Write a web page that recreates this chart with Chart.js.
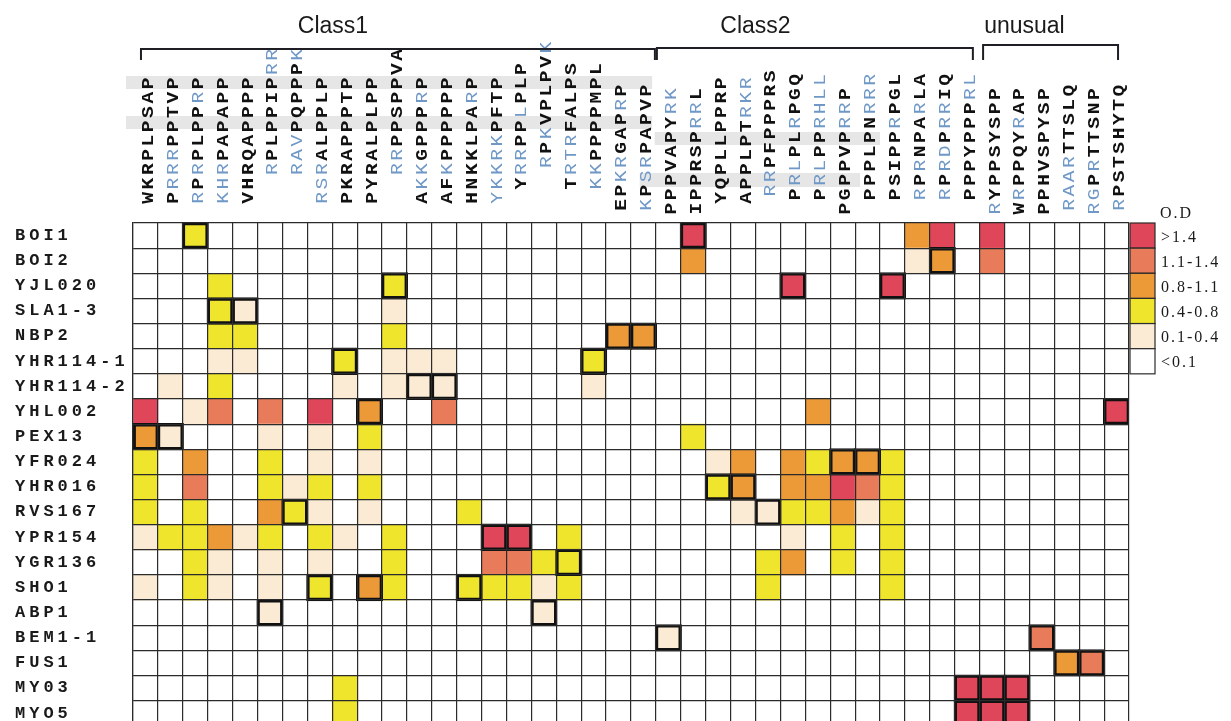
<!DOCTYPE html>
<html>
<head>
<meta charset="utf-8">
<script src="https://cdn.jsdelivr.net/npm/chart.js@4.4.1/dist/chart.umd.min.js"></script>
<style>
html, body { margin: 0; padding: 0; background: #fff; overflow: hidden; }
canvas { display: block; }
</style>
</head>
<body>
<canvas id="heat" width="1231" height="739"></canvas>
<script>
// bait proteins (rows)
var rows = ['BOI1', 'BOI2', 'YJL020', 'SLA1-3', 'NBP2', 'YHR114-1', 'YHR114-2', 'YHL002', 'PEX13', 'YFR024',
    'YHR016', 'RVS167', 'YPR154', 'YGR136', 'SHO1', 'ABP1', 'BEM1-1', 'FUS1', 'MY03', 'MYO5'];

// peptide columns, b = blue letter, k = black letter
var peptides = ['WKRPLPSAP', 'PRRRPPTVP', 'RPRPLPPRP', 'KHRPAPAPP', 'VHRQAPPPP', 'RPLPPIPRR', 'RAVPQPPPK',
    'RSRALPPLP', 'PKRAPPPTP', 'PYRALPLPP', 'RRPPSPPVA', 'AKKGPPPRP', 'AFKPPPPPP', 'HNKKLPARP', 'YKKRKPFTP',
    'YRRPPLPLP', 'RPKVPLPVK', 'TRTRFALPS', 'KKPPPPMPL', 'EPKRGAPRP', 'KPSRPAPVP',
    'PPPVAPYRK', 'IPPRSPRRL', 'YQPLLPPRP', 'APPLPTRKR', 'RRPFPPPRS', 'PRLPLRPGQ', 'PRLPPRHLL', 'PGPPVPRRP',
    'PPPLPNRRR', 'PSIPPRPGL', 'RPRNPARLA', 'RPRDPRRIQ', 'PPPYPPPRL',
    'RYPPSYSPP', 'WRPPQYRAP', 'PPHVSPYSP', 'RAARTTSLQ', 'RGPRTTSNP', 'RPSTSHYTQ'];
var letterColor = ['kkkkkkkkk', 'kbbbkkkkk', 'bkbkkkkbk', 'bbbkkkkkk', 'kkkkkkkkk', 'bkkkkkkbb', 'bbbkkkkkb',
    'bbbkkkkkk', 'kkkkkkkkk', 'kkkkkkkkk', 'bbkkkkkkk', 'kbbkkkkbk', 'kkbkkkkkk', 'kkkkkkkbk', 'bbbbbkkkk',
    'kbbkkbkkk', 'bkbkkkkkb', 'kbbbkkkkk', 'bbkkkkkkk', 'kkbbkkkbk', 'bkbbkkkkk',
    'kkkkkkkbb', 'kkkkkkbbk', 'kkkkkkkkk', 'kkkkkkbbb', 'bbkkkkkkk', 'kbbkkbkkk', 'kbbkkbbbb', 'kkkkkkbbk',
    'kkkkkkbbb', 'kkkkkbkkk', 'bkbkkkbkk', 'bkbbkbbkk', 'kkkkkkkbb',
    'bkkkkkkkk', 'kbkkkkbkk', 'kkkkkkkkk', 'bbbbkkkkk', 'bbkbkkkkk', 'bkkkkkkkk'];
// how many letters each peptide is lifted to align its PxxP motif
var motifShift = [0, 0, 0, 0, 0, 2, 2, 0, 0, 0, 2, 0, 0, 0, 0, 1, 2.5, 1, 1, -0.5, -0.5,
    -0.75, -0.75, 0, 0, 0.5, 0.25, 0.25, -0.75, 0.25, 0.25, 0.25, 0.25, 0.25,
    -0.75, -0.75, -0.75, -0.5, -0.75, -0.5];

var classNames = ['Class1', 'Class2', 'unusual'];
var classFirst = [0, 21, 34];
var classLast = [20, 33, 39];

var odLabels = ['>1.4', '1.1-1.4', '0.8-1.1', '0.4-0.8', '0.1-0.4', '<0.1'];
var odColors = ['#df4659', '#e87b59', '#ec9a38', '#efe52c', '#fbebd4', '#ffffff'];

// O.D level per cell: 5 = >1.4 ... 1 = 0.1-0.4, . = <0.1
var odLevel = [
    '..2....... .......... ..5....... .35.5.....',
    '.......... .......... ..3....... .13.4.....',
    '...2...... 2......... ......5... 5.........',
    '...21..... 1......... .......... ..........',
    '...22..... 2........3 3......... ..........',
    '...11...2. 111.....2. .......... ..........',
    '.1.2....1. 111.....1. .......... ..........',
    '5.14.4.5.3 ..4....... .......3.. .........5',
    '31...1.1.2 .......... ..2....... ..........',
    '2.3..2.1.1 .......... ...13.3233 2.........',
    '2.4..212.2 .......... ...23.3354 2.........',
    '2.2..321.1 ...2...... ....112231 2.........',
    '122312.21. 2...55.2.. ......1.2. 2.........',
    '..21.1.1.. 2...4422.. .....23.2. 2.........',
    '1.21.1.2.3 2..22212.. .....2.... 2.........',
    '.....1.... ......1... .......... ..........',
    '.......... .......... .1........ ......4...',
    '.......... .......... .......... .......34.',
    '........2. .......... .......... ...555....',
    '........2. .......... .......... ...555....'
];
// cells outlined in black
var boxed = [
    '..x....... .......... ..x....... ..........',
    '.......... .......... .......... ..x.......',
    '.......... x......... ......x... x.........',
    '...xx..... .......... .......... ..........',
    '.......... .........x x......... ..........',
    '........x. ........x. .......... ..........',
    '.......... .xx....... .......... ..........',
    '.........x .......... .......... .........x',
    'xx........ .......... .......... ..........',
    '.......... .......... ........xx ..........',
    '.......... .......... ...xx..... ..........',
    '......x... .......... .....x.... ..........',
    '.......... ....xx.... .......... ..........',
    '.......... .......x.. .......... ..........',
    '.......x.x ...x...... .......... ..........',
    '.....x.... ......x... .......... ..........',
    '.......... .......... .x........ ......x...',
    '.......... .......... .......... .......xx.',
    '.......... .......... .......... ...xxx....',
    '.......... .......... .......... ...xxx....'
];

var cells = [], boxes = [];
rows.forEach(function (r, i) {
    var lv = odLevel[i].replace(/ /g, ''), bx = boxed[i].replace(/ /g, '');
    for (var c = 0; c < peptides.length; c++) {
        var v = lv[c] === '.' ? 0 : +lv[c];
        if (v > 0) cells.push({ x: [c, c + 1], y: r, v: v });
        if (bx[c] === 'x') boxes.push({ x: [c, c + 1], y: r });
    }
});

var gridColor = '#2b2b2b';
var blue = '#6f98c6';

var rowLabelSpacing = {
    id: 'rowLabelSpacing',
    beforeDraw: function (chart) { chart.ctx.letterSpacing = '4px'; },
    beforeDatasetsDraw: function (chart) { chart.ctx.letterSpacing = '0px'; }
};

var decorations = {
    id: 'decorations',
    afterDraw: function (chart) {
        var g = chart.ctx, xs = chart.scales.x, ys = chart.scales.y, ca = chart.chartArea;
        var pitch = 14.3, base = ca.top - 18;
        g.save();

        // grey motif bands behind peptide letters
        g.fillStyle = '#e6e6e6';
        var bands = [[-0.28, 20.85, 129, 116], [-0.28, 20.85, 89, 76], [20.95, 30, 73, 60], [20.35, 29.2, 32, 18]];
        bands.forEach(function (b) {
            var x0 = xs.getPixelForValue(b[0]), x1 = xs.getPixelForValue(b[1]);
            g.fillRect(x0, base - b[2], x1 - x0, b[2] - b[3]);
        });

        // rotated peptide labels, letter by letter
        g.textAlign = 'center';
        g.textBaseline = 'alphabetic';
        peptides.forEach(function (p, c) {
            var cx = xs.getPixelForValue(c + 0.5) + 1.5;
            var bottom = base - motifShift[c] * pitch;
            for (var k = 0; k < p.length; k++) {
                var isBlue = letterColor[c][k] === 'b';
                g.font = (isBlue ? '' : 'bold ') + '17px "Liberation Mono"';
                g.fillStyle = isBlue ? blue : '#111';
                g.save();
                g.translate(cx, bottom - (k + 0.5) * pitch);
                g.rotate(-Math.PI / 2);
                g.scale(1.15, 1);
                g.fillText(p[k], 0, 6);
                g.restore();
            }
        });

        // class brackets and titles
        var bracketL = [0.32, 21.04, 34.14], bracketR = [20.96, 33.73, 39.56];
        var bracketY = [49, 48, 45], titleX = [8.03, 25.0, 35.8];
        g.strokeStyle = '#1e1e24';
        g.lineWidth = 2;
        g.fillStyle = '#1a1a1a';
        g.font = '23px "Liberation Sans"';
        g.textAlign = 'center';
        classNames.forEach(function (name, i) {
            var x0 = xs.getPixelForValue(bracketL[i]), x1 = xs.getPixelForValue(bracketR[i]);
            var y = bracketY[i];
            g.beginPath();
            g.moveTo(x0, 60); g.lineTo(x0, y); g.lineTo(x1, y); g.lineTo(x1, 60);
            g.stroke();
            g.fillText(name, xs.getPixelForValue(titleX[i]), 33);
        });

        // O.D key
        var kx = xs.getPixelForValue(40) + 1, kw = 25, rh = ys.height / rows.length;
        odLabels.forEach(function (lab, i) {
            var yc = ys.getPixelForValue(i);
            g.fillStyle = odColors[i];
            g.fillRect(kx, yc - rh / 2, kw, rh);
            g.strokeStyle = gridColor;
            g.lineWidth = 1.2;
            g.strokeRect(kx, yc - rh / 2, kw, rh);
            g.fillStyle = '#1a1a1a';
            g.font = '16px "Liberation Serif"';
            g.letterSpacing = '2px';
            g.textAlign = 'left';
            g.textBaseline = 'middle';
            g.fillText(lab, kx + kw + 6, yc + 2);
        });
        g.textBaseline = 'alphabetic';
        g.fillText('O.D', kx + kw + 5, ca.top - 5);
        g.letterSpacing = '0px';
        g.restore();
    }
};

var ctx = document.getElementById('heat').getContext('2d');
var myChart = new Chart(ctx, {
    type: 'bar',
    data: {
        labels: rows,
        datasets: [{
            label: 'binding',
            data: boxes,
            order: 0,
            grouped: false,
            backgroundColor: 'rgba(0,0,0,0)',
            borderColor: '#111',
            borderWidth: 1.2,
            inflateAmount: 1.1,
            borderSkipped: false,
            barPercentage: 1,
            categoryPercentage: 1
        }, {
            label: 'O.D',
            data: cells,
            order: 1,
            grouped: false,
            backgroundColor: function (c) { return c.raw ? odColors[5 - c.raw.v] : '#fff'; },
            borderWidth: 0,
            barPercentage: 1,
            categoryPercentage: 1
        }]
    },
    options: {
        indexAxis: 'y',
        responsive: false,
        animation: false,
        events: [],
        layout: { padding: { top: 223, left: 15, right: 102, bottom: 5 } },
        plugins: { legend: { display: false }, tooltip: { enabled: false } },
        scales: {
            x: {
                type: 'linear',
                min: 0,
                max: 40,
                ticks: { display: false, stepSize: 1, maxTicksLimit: 100 },
                grid: { color: gridColor, lineWidth: 1.2, drawTicks: false, z: 1 },
                border: { color: gridColor, width: 1.2, z: 1 },
                afterFit: function (s) { s.height = 0; }
            },
            y: {
                type: 'category',
                labels: rows,
                offset: true,
                ticks: {
                    autoSkip: false,
                    crossAlign: 'far',
                    color: '#1a1a1a',
                    font: { family: 'Liberation Mono', size: 17, weight: 'bold' }
                },
                grid: { offset: true, color: gridColor, lineWidth: 1.2, drawTicks: false, z: 1 },
                border: { color: gridColor, width: 1.2, z: 1 },
                afterFit: function (s) { s.width = 118; }
            }
        }
    },
    plugins: [rowLabelSpacing, decorations]
});
</script>
</body>
</html>
